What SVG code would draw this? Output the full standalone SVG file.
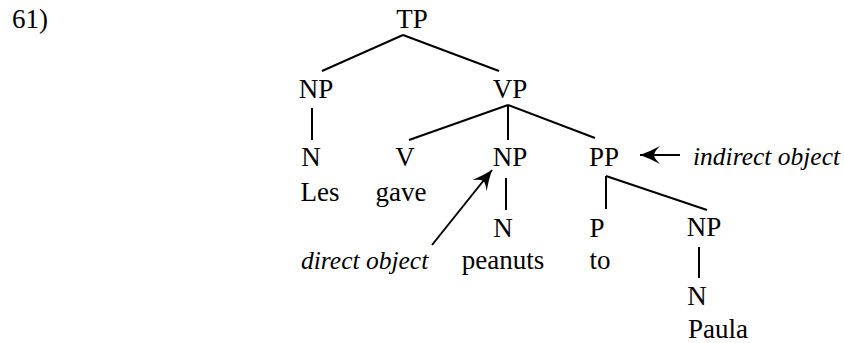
<svg xmlns="http://www.w3.org/2000/svg" width="844" height="343" viewBox="0 0 844 343">
<style>
.t{font-family:'Liberation Serif','Times New Roman',Times,serif;font-size:27px;fill:#000}
.n{text-anchor:middle}
.it{font-style:italic;font-size:25.5px}
.e{stroke:#000;stroke-width:2;fill:none;stroke-linecap:butt}
.a{stroke:#000;stroke-width:2;fill:none}
</style>
<defs>
<marker id="ah" viewBox="-22 -11 23 22" refX="0" refY="0" markerWidth="23" markerHeight="22" markerUnits="userSpaceOnUse" orient="auto">
<path d="M0,0 Q-10,-3.5 -20,-9 Q-14,-3 -14,0 Q-14,3 -20,9 Q-10,3.5 0,0 Z" fill="#000"/>
</marker>
</defs>
<text class="t" x="12" y="28">61)</text>
<g id="connectors">
<line class="e" x1="403" y1="35" x2="322" y2="71"/>
<line class="e" x1="403" y1="35" x2="499" y2="71"/>
<line class="e" x1="312" y1="108" x2="312" y2="140"/>
<line class="e" x1="508" y1="105" x2="409" y2="140"/>
<line class="e" x1="508" y1="105" x2="508" y2="140"/>
<line class="e" x1="508" y1="105" x2="595" y2="138"/>
<line class="e" x1="506" y1="178" x2="506" y2="210"/>
<line class="e" x1="606" y1="176" x2="606" y2="209"/>
<line class="e" x1="606" y1="176" x2="707" y2="210"/>
<line class="e" x1="699" y1="247" x2="699" y2="278"/>
<line class="a" x1="432" y1="245" x2="492" y2="170" marker-end="url(#ah)"/>
<line class="a" x1="680" y1="155" x2="640" y2="155" marker-end="url(#ah)"/>
</g>
<g id="TP"><text class="t n" x="412" y="28">TP</text></g>
<g id="NP1"><text class="t n" x="316" y="98">NP</text></g>
<g id="VP"><text class="t n" x="510" y="98">VP</text></g>
<g id="N1"><text class="t n" x="311" y="166">N</text><text class="t n" x="320" y="201">Les</text></g>
<g id="V"><text class="t n" x="405" y="166">V</text><text class="t n" x="401" y="201">gave</text></g>
<g id="NP2"><text class="t n" x="510" y="166">NP</text></g>
<g id="PP"><text class="t n" x="604" y="166">PP</text></g>
<g id="N2"><text class="t n" x="503" y="237">N</text><text class="t n" x="503" y="269">peanuts</text></g>
<g id="P"><text class="t n" x="597" y="237">P</text><text class="t n" x="600" y="269">to</text></g>
<g id="NP3"><text class="t n" x="704" y="236">NP</text></g>
<g id="N3"><text class="t n" x="697" y="305">N</text><text class="t n" x="718" y="338">Paula</text></g>
<g id="label-direct"><text class="t it" x="301" y="269">direct object</text></g>
<g id="label-indirect"><text class="t it" x="693" y="165">indirect object</text></g>
</svg>
